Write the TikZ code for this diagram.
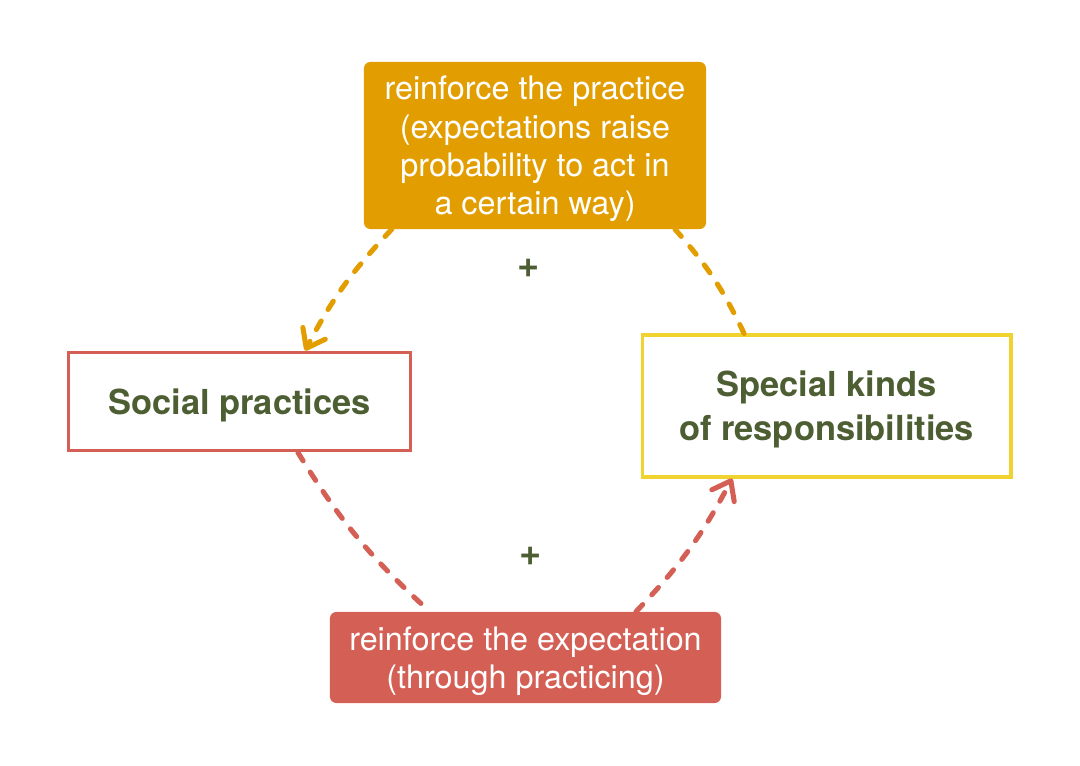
\documentclass[tikz,border=0pt]{standalone}
\usepackage{fontspec}
\setmainfont{TeX Gyre Heros}
\usetikzlibrary{positioning, calc, arrows.meta}
\definecolor{orng}{HTML}{E29E00}
\definecolor{rd}{HTML}{D45F55}
\definecolor{ylw}{HTML}{F0D32E}
\definecolor{grn}{HTML}{4D5E33}

\begin{document}
\begin{tikzpicture}[x=0.025cm, y=-0.025cm,
		fillbox/.style={rounded corners=4.5pt, text=white, align=center, text depth=0pt,
			font=\fontsize{23}{27.3}\selectfont},
		linebox/.style={draw, line width=2.2pt, fill=white, text=grn, align=center, text depth=0pt,
			font=\bfseries\fontsize{24.5}{31.5}\selectfont},
		link/.style={line width=3.6pt, line cap=round, dash pattern=on 7pt off 9.5pt},
		tip/.style={-{Straight Barb[length=12pt, width=18pt, round]}}]
	\useasboundingbox (0,0) rectangle (1080,766);
	\node (top) [fillbox, fill=orng, minimum width=8.55cm, minimum height=4.175cm] at (535,145.5)
		{reinforce the practice\\(expectations raise\\probability to act in\\a certain way)};
	\node (social) [linebox, draw=rd, minimum width=8.57cm, minimum height=2.47cm] at (239.5,401.5)
		{Social practices};
	\node (special) [linebox, draw=ylw, minimum width=9.22cm, minimum height=3.55cm] at (826.5,406)
		{Special kinds\\of responsibilities};
	\node (bottom) [fillbox, fill=rd, minimum width=9.775cm, minimum height=2.275cm] at (525.5,657.5)
		{reinforce the expectation\\(through practicing)};
	\node (plus a) [text=grn, font=\bfseries\fontsize{27}{27}\selectfont] at (529,268) {+};
	\node (plus b) [text=grn, font=\bfseries\fontsize{27}{27}\selectfont] at (531,556) {+};
	% upper half of the loop
	\draw [link, orng] ([xshift=-2.06cm]special.north) to [bend right=8] ([xshift=3.5cm]top.south);
	\draw [link, tip, orng] ([xshift=-3.58cm]top.south) to [bend right=8] ([xshift=1.64cm]social.north);
	% lower half of the loop
	\draw [link, rd] ([xshift=1.46cm]social.south) to [bend right=8] ([xshift=-2.39cm]bottom.north);
	\draw [link, tip, rd] ([xshift=2.76cm]bottom.north) to [bend right=8] ([xshift=-2.36cm]special.south);
\end{tikzpicture}
\end{document}
